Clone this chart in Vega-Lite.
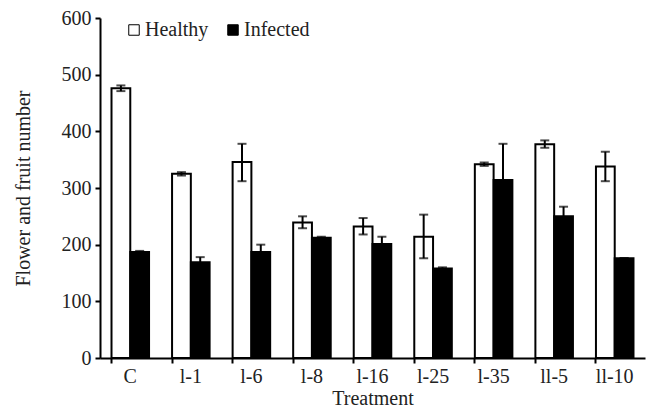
{
  "$schema": "https://vega.github.io/schema/vega-lite/v6.json",
  "width": 545,
  "height": 340,
  "autosize": {"type": "none"},
  "padding": {"left": 100, "top": 18, "right": 3, "bottom": 50},
  "background": "white",
  "config": {
    "view": {"stroke": null},
    "font": "Liberation Serif",
    "axis": {"labelFont": "Liberation Serif", "titleFont": "Liberation Serif", "labelFontSize": 20, "titleFontSize": 20, "titleFontWeight": "normal", "labelColor": "#222", "titleColor": "#222", "domainColor": "black", "tickColor": "black", "domainWidth": 2, "tickWidth": 2, "grid": false, "labelOverlap": false},
    "legend": {"labelFont": "Liberation Serif", "labelFontSize": 20, "labelColor": "#222"}
  },
  "data": {
    "values": [
      {"treatment": "C", "group": "Healthy", "value": 476, "lo": 471, "hi": 481},
      {"treatment": "C", "group": "Infected", "value": 187, "lo": 185, "hi": 189},
      {"treatment": "l-1", "group": "Healthy", "value": 325, "lo": 322, "hi": 328},
      {"treatment": "l-1", "group": "Infected", "value": 169, "lo": 160, "hi": 178},
      {"treatment": "l-6", "group": "Healthy", "value": 346, "lo": 312, "hi": 378},
      {"treatment": "l-6", "group": "Infected", "value": 187, "lo": 174, "hi": 200},
      {"treatment": "l-8", "group": "Healthy", "value": 239, "lo": 229, "hi": 250},
      {"treatment": "l-8", "group": "Infected", "value": 212, "lo": 210, "hi": 214},
      {"treatment": "l-16", "group": "Healthy", "value": 232, "lo": 218, "hi": 247},
      {"treatment": "l-16", "group": "Infected", "value": 201, "lo": 188, "hi": 214},
      {"treatment": "l-25", "group": "Healthy", "value": 214, "lo": 176, "hi": 253},
      {"treatment": "l-25", "group": "Infected", "value": 158, "lo": 156, "hi": 160},
      {"treatment": "l-35", "group": "Healthy", "value": 342, "lo": 339, "hi": 345},
      {"treatment": "l-35", "group": "Infected", "value": 314, "lo": 251, "hi": 378},
      {"treatment": "ll-5", "group": "Healthy", "value": 377, "lo": 371, "hi": 384},
      {"treatment": "ll-5", "group": "Infected", "value": 250, "lo": 234, "hi": 267},
      {"treatment": "ll-10", "group": "Healthy", "value": 338, "lo": 312, "hi": 364},
      {"treatment": "ll-10", "group": "Infected", "value": 176, "lo": 176, "hi": 176}
    ]
  },
  "encoding": {
    "x": {
      "field": "treatment", "type": "nominal", "sort": null,
      "scale": {"paddingInner": 0.38, "paddingOuter": 0.19},
      "axis": {"title": "Treatment", "labelAngle": 0, "bandPosition": 0, "tickSize": 5, "labelPadding": 3, "titlePadding": 2}
    },
    "xOffset": {"field": "group", "type": "nominal", "sort": ["Healthy", "Infected"]}
  },
  "layer": [
    {
      "mark": {"type": "bar", "stroke": "black", "strokeWidth": 2},
      "encoding": {
        "y": {"field": "value", "type": "quantitative", "scale": {"domain": [0, 600]}, "axis": {"title": "Flower and fruit number", "values": [0, 100, 200, 300, 400, 500, 600], "tickSize": 5, "labelPadding": 4, "titlePadding": 28}},
        "fill": {
          "field": "group", "type": "nominal",
          "scale": {"domain": ["Healthy", "Infected"], "range": ["white", "black"]},
          "legend": {"title": null, "orient": "none", "legendX": 24, "legendY": 2, "direction": "horizontal", "symbolType": "square", "symbolSize": 110, "symbolStrokeColor": "black", "symbolStrokeWidth": 1, "labelOffset": 1, "columnPadding": 14, "padding": 0}
        }
      }
    },
    {
      "mark": {"type": "rule", "color": "black", "strokeWidth": 2},
      "encoding": {
        "y": {"field": "lo", "type": "quantitative"},
        "y2": {"field": "hi"}
      }
    },
    {
      "mark": {"type": "tick", "color": "black", "thickness": 2, "size": 9},
      "encoding": {"y": {"field": "lo", "type": "quantitative"}}
    },
    {
      "mark": {"type": "tick", "color": "black", "thickness": 2, "size": 9},
      "encoding": {"y": {"field": "hi", "type": "quantitative"}}
    }
  ]
}
